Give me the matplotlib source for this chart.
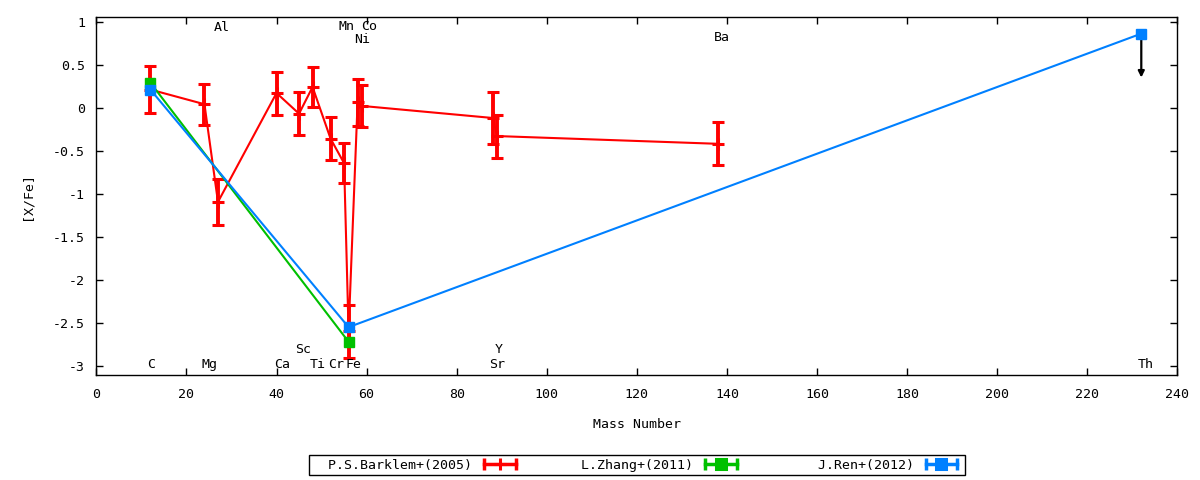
import matplotlib
matplotlib.use("Agg")
import matplotlib.pyplot as plt
from matplotlib.lines import Line2D
from matplotlib.legend_handler import HandlerLine2D

plt.rcParams['font.family'] = ['DejaVu Sans Mono']
plt.rcParams['font.size'] = 9.5
plt.rcParams['axes.unicode_minus'] = False

# P.S.Barklem+(2005)
bark_mass = [12, 24, 27, 40, 45, 48, 52, 55, 56, 58, 59, 88, 89, 138]
bark_xfe = [0.21, 0.04, -1.095, 0.17, -0.07, 0.24, -0.36, -0.645, -2.60, 0.06, 0.02, -0.12, -0.33, -0.42]
bark_err = [0.27, 0.24, 0.265, 0.25, 0.25, 0.23, 0.25, 0.235, 0.31, 0.27, 0.24, 0.30, 0.25, 0.25]

# L.Zhang+(2011)
zhang_mass = [12, 56]
zhang_xfe = [0.29, -2.72]

# J.Ren+(2012)
ren_mass = [12, 56, 232]
ren_xfe = [0.21, -2.55, 0.86]
th_limit = 0.35  # upper limit arrow end for Th

# element labels (x, y, name)
elem_names = ['C', 'Mg', 'Al', 'Ca', 'Sc', 'Ti', 'Cr', 'Mn', 'Fe', 'Co', 'Ni', 'Sr', 'Y', 'Ba', 'Th']
elem_x = [12.2, 25.2, 27.9, 41.2, 45.9, 49.2, 53.2, 55.6, 57.0, 60.6, 59.0, 89.0, 89.4, 138.9, 233.0]
elem_y = [-2.98, -2.98, 0.93, -2.98, -2.81, -2.98, -2.98, 0.94, -2.98, 0.94, 0.795, -2.98, -2.81, 0.81, -2.98]

red = '#ff0000'
green = '#00c000'
blue = '#0080ff'

fig = plt.figure(figsize=(12, 4.8), dpi=100)
ax = fig.add_axes([0.0803, 0.218, 0.9008, 0.746])

ax.errorbar(bark_mass, bark_xfe, yerr=bark_err, color=red, lw=1.5, marker='+', ms=8, mew=2.2,
            elinewidth=2.8, capsize=4.5, capthick=2.4, zorder=3)
ax.plot(zhang_mass, zhang_xfe, color=green, lw=1.5, marker='s', ms=7, zorder=4)
ax.plot(ren_mass, ren_xfe, color=blue, lw=1.5, marker='s', ms=7, zorder=5)
ax.annotate('', xy=(ren_mass[-1], th_limit), xytext=(ren_mass[-1], ren_xfe[-1]),
            arrowprops=dict(arrowstyle='-|>', color='black', lw=1.6, mutation_scale=9,
                            shrinkA=0, shrinkB=0), zorder=2)

for name, x, y in zip(elem_names, elem_x, elem_y):
    ax.text(x, y, name, ha='center', va='center', fontsize=9.5)

ax.set_xlim(0, 240)
ax.set_ylim(-3.11, 1.05)
ax.set_xticks(range(0, 241, 20))
ax.set_yticks([1, 0.5, 0, -0.5, -1, -1.5, -2, -2.5, -3])
ax.set_yticklabels(['%g' % v for v in [1, 0.5, 0, -0.5, -1, -1.5, -2, -2.5, -3]])
ax.tick_params(direction='in', top=True, right=True, length=5, width=1)
ax.tick_params(axis='x', pad=9)
ax.tick_params(axis='y', pad=8)
for s in ax.spines.values():
    s.set_linewidth(1)
ax.set_xlabel('Mass Number', labelpad=12)
ax.set_ylabel('[X/Fe]', labelpad=14)

# legend entries: line with end caps plus centre marker
handles = []
for col, mk in [(red, '+'), (green, 's'), (blue, 's')]:
    bar = Line2D([], [], color=col, lw=2.5, marker='|', ms=9, mew=2.5)
    pt = Line2D([], [], color=col, ls='none', marker=mk, ms=7 if mk == 's' else 9, mew=2.2)
    handles.append((bar, pt))
labels = ['  P.S.Barklem+(2005)', '      L.Zhang+(2011)', '        J.Ren+(2012)']
hmap = {h[1]: HandlerLine2D(numpoints=1) for h in handles}
leg = ax.legend(handles, labels, handler_map=hmap, numpoints=2, ncol=3, loc='upper center',
                bbox_to_anchor=(0.5, -0.205), markerfirst=False, fancybox=False,
                edgecolor='black', framealpha=1, borderpad=0.25, handlelength=3.0,
                handletextpad=0.6, columnspacing=1.0, fontsize=9.5)
leg.get_frame().set_linewidth(1)

fig.savefig('out.png', dpi=100)
